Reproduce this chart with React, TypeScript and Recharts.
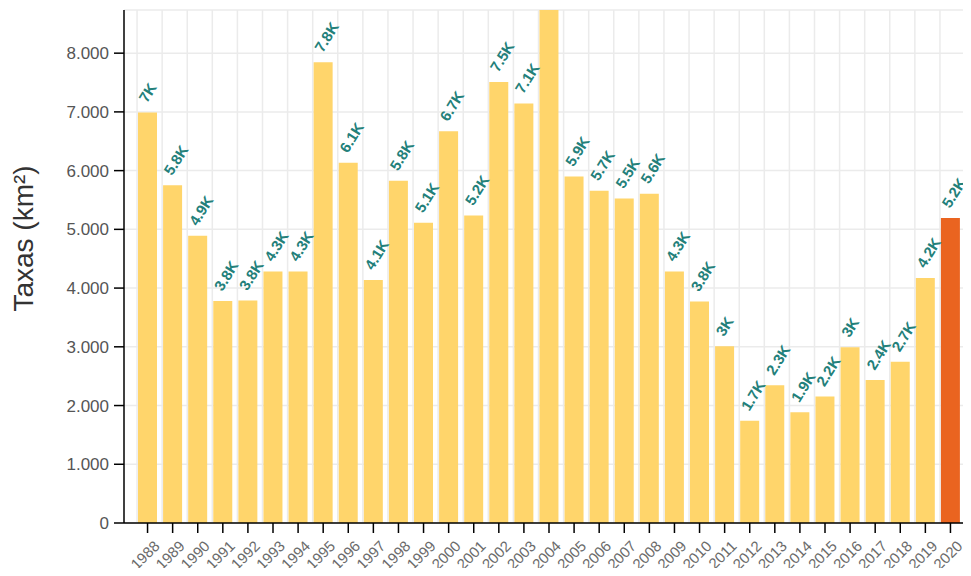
import { Bar, BarChart, CartesianGrid, Cell, LabelList, XAxis, YAxis } from "recharts";

const years = [
  "1988", "1989", "1990", "1991", "1992", "1993", "1994", "1995", "1996", "1997", "1998",
  "1999", "2000", "2001", "2002", "2003", "2004", "2005", "2006", "2007", "2008", "2009",
  "2010", "2011", "2012", "2013", "2014", "2015", "2016", "2017", "2018", "2019", "2020",
];
const rates = [
  6990, 5750, 4890, 3780, 3787, 4284, 4284, 7845, 6135, 4139, 5829,
  5111, 6671, 5237, 7510, 7145, 8870, 5899, 5659, 5526, 5607, 4281,
  3770, 3008, 1741, 2346, 1887, 2153, 2992, 2433, 2744, 4172, 5192,
];
const yTicks = [0, 1000, 2000, 3000, 4000, 5000, 6000, 7000, 8000];
const Y_MAX = 8735;

const data = years.map((year, i) => ({ year, rate: rates[i] }));

const FONT = "'Liberation Sans', Arial, sans-serif";
const BAR_FILL = "#FFD56B";
const LAST_FILL = "#EA6420";
const LABEL_FILL = "#23807a";
const PAD_L = 11;
const PAD_R = 8;
const BAR_W = 19;

const thousands = (v: number) => String(v).replace(/\B(?=(\d{3})+(?!\d))/g, ".");
const shortK = (v: number) => {
  const k = Math.round(v / 100) / 10;
  return `${String(k)}K`;
};

function YearTick(props: any) {
  const { x, y, payload } = props;
  const px = x + 13;
  const py = y + 12;
  return (
    <text
      x={px}
      y={py}
      transform={`rotate(-45, ${px}, ${py})`}
      textAnchor="end"
      fill="#6b6b6b"
      fontSize={15}
      fontFamily={FONT}
    >
      {payload.value}
    </text>
  );
}

function ValueLabel(props: any) {
  const { x, y, value } = props;
  // the bar running past the top of the plot has no visible label
  if (value > Y_MAX) return null;
  const px = x + 9;
  const py = y - 9;
  return (
    <text
      x={px}
      y={py}
      transform={`rotate(-58, ${px}, ${py})`}
      textAnchor="start"
      fill={LABEL_FILL}
      fontSize={15}
      fontWeight="bold"
      fontFamily={FONT}
    >
      {shortK(value)}
    </text>
  );
}

function AxisTitle(props: any) {
  const { viewBox } = props;
  const cx = viewBox.x + 23;
  const cy = viewBox.y + viewBox.height / 2 - 28;
  return (
    <text
      x={cx}
      y={cy}
      transform={`rotate(-90, ${cx}, ${cy})`}
      textAnchor="middle"
      dominantBaseline="central"
      fill="#333"
      fontSize={28}
      fontFamily={FONT}
    >
      Taxas (km²)
    </text>
  );
}

const gridX = ({ offset }: any) => {
  const step = (offset.width - PAD_L - PAD_R) / years.length;
  const start = offset.left + PAD_L;
  return years.map((_, i) => start + i * step + (step - BAR_W) / 2 - 1);
};

export default function App() {
  return (
    <div style={{ margin: -8, background: "#fff", width: 971, height: 576 }}>
      <BarChart
        width={971}
        height={576}
        data={data}
        margin={{ top: 10, right: 0, bottom: 0, left: 0 }}
      >
        <CartesianGrid
          stroke="#ebebeb"
          strokeWidth={1.5}
          verticalCoordinatesGenerator={gridX}
        />
        <XAxis
          dataKey="year"
          height={53}
          padding={{ left: PAD_L, right: PAD_R }}
          stroke="#000"
          strokeWidth={1.5}
          tickSize={10}
          tick={<YearTick />}
          interval={0}
        />
        <YAxis
          width={124}
          domain={[0, Y_MAX]}
          allowDataOverflow
          ticks={yTicks}
          tickFormatter={thousands}
          stroke="#000"
          strokeWidth={1.5}
          tickSize={10}
          tickMargin={5}
          tick={{ fill: "#555", fontSize: 17, fontFamily: FONT }}
          label={<AxisTitle />}
        />
        <Bar dataKey="rate" barSize={BAR_W} isAnimationActive={false}>
          {data.map((d, i) => (
            <Cell key={d.year} fill={i === data.length - 1 ? LAST_FILL : BAR_FILL} />
          ))}
          <LabelList dataKey="rate" content={<ValueLabel />} />
        </Bar>
      </BarChart>
    </div>
  );
}
